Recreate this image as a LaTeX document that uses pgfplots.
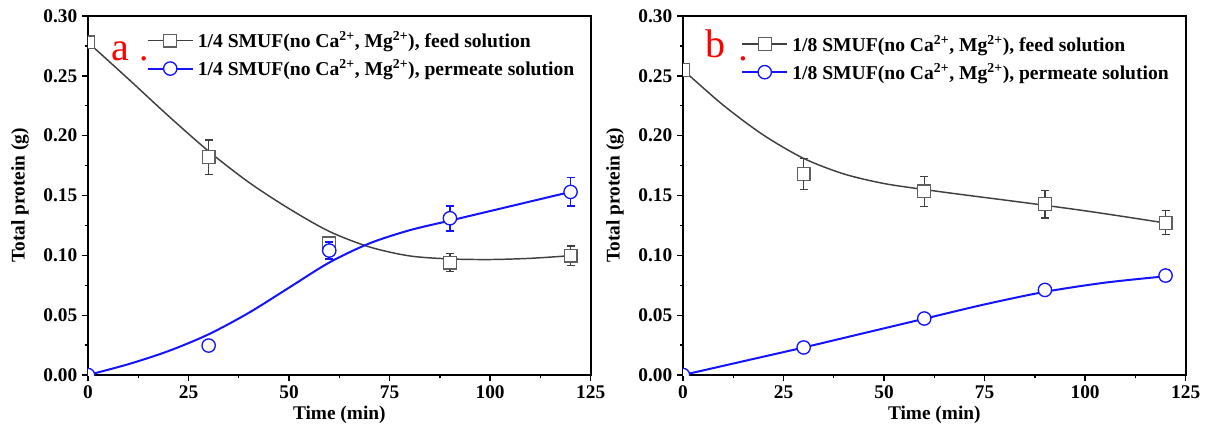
\documentclass[border=0pt]{standalone}
\usepackage{fontspec}
\setmainfont{Liberation Serif}
\usepackage{pgfplots}
\pgfplotsset{compat=1.18}
\definecolor{lgray}{RGB}{64,64,64}
\definecolor{mgray}{RGB}{95,95,95}
\definecolor{mblue}{RGB}{20,20,255}
\pgfplotsset{
  myax/.style={
    scale only axis, width=377pt, height=269.25pt,
    xmin=0, xmax=125, ymin=0, ymax=0.30,
    xtick={0,25,50,75,100,125},
    ytick={0,0.05,0.10,0.15,0.20,0.25,0.30},
    minor x tick num=1, minor y tick num=1,
    tick pos=left, tick align=outside,
    major tick length=4.5pt, minor tick length=2.5pt,
    axis line style={line width=1.4pt},
    every tick/.style={black, line width=1pt},
    /pgf/number format/assume math mode=true,
    ticklabel style={font=\bfseries\fontsize{14.5}{17}\selectfont},
    yticklabel style={/pgf/number format/.cd, fixed, fixed zerofill, precision=2},
    every axis x label/.style={at={(rel axis cs:0.5,0)}, yshift=-30pt, anchor=center},
    every axis y label/.style={at={(rel axis cs:0,0.5)}, xshift=-51pt, rotate=90, anchor=center},
    label style={font=\bfseries\fontsize{14.5}{17}\selectfont},
    xlabel={Time (min)}, ylabel={Total protein (g)},
    clip marker paths=true,
    legend style={draw=none, fill=none, anchor=north west, inner sep=0pt,
      font=\bfseries\fontsize{14.7}{16.5}\selectfont, row sep=3.5pt,
      cells={anchor=west},
      /tikz/every odd column/.append style={column sep=1pt}},
    legend image code/.code={\draw[mark repeat=2,mark phase=2] plot coordinates {(0pt,0pt)(17pt,0pt)(34pt,0pt)};},
  },
  feedpts/.style={only marks, mark=square*, mark size=4.8pt,
    mark options={draw=mgray, fill=white, line width=0.9pt, solid},
    error bars/y dir=both, error bars/y explicit,
    error bars/error bar style={lgray, line width=1pt},
    error bars/error mark options={rotate=90, mark size=3pt, lgray, line width=1pt}},
  permpts/.style={only marks, mark=*, mark size=5pt,
    mark options={draw=mblue, fill=white, line width=1pt, solid},
    error bars/y dir=both, error bars/y explicit,
    error bars/error bar style={mblue, line width=1.3pt},
    error bars/error mark options={rotate=90, mark size=3pt, mblue, line width=1.3pt}},
  feedline/.style={lgray, line width=1.1pt, smooth, no marks},
  permline/.style={mblue, line width=1.5pt, smooth, no marks},
}
\begin{document}
\begin{tikzpicture}
\useasboundingbox (-66pt,-45.75pt) rectangle (842.25pt,281.25pt);
% ---------- panel a ----------
\begin{axis}[myax, legend style={at={(rel axis cs:0.116,0.965)}}]
\addlegendimage{lgray, line width=1.1pt, mark=square*, mark size=4.8pt, mark options={draw=mgray, fill=white, line width=0.9pt}}
\addlegendentry{1/4 SMUF(no Ca\textsuperscript{2+}, Mg\textsuperscript{2+}), feed solution}
\addlegendimage{mblue, line width=1.5pt, mark=*, mark size=5pt, mark options={draw=mblue, fill=white, line width=1pt}}
\addlegendentry{1/4 SMUF(no Ca\textsuperscript{2+}, Mg\textsuperscript{2+}), permeate solution}
\addplot[feedline, forget plot] coordinates {
 (0,0.278) (10,0.2475) (20,0.2165) (30,0.187) (40,0.161) (50,0.139) (60,0.120)
 (70,0.107) (80,0.0995) (90,0.097) (100,0.0965) (110,0.0975) (120,0.0997)};
\addplot[permline, forget plot] coordinates {
 (0,0) (10,0.009) (20,0.020) (30,0.034) (40,0.052) (50,0.073) (60,0.094)
 (70,0.110) (80,0.121) (90,0.129) (100,0.137) (110,0.145) (120,0.153)};
\addplot[feedpts, forget plot] table[x=x, y=y, y error=e] {
x y e
0 0.278 0
30 0.182 0.0145
60 0.110 0.006
90 0.094 0.0075
120 0.0997 0.008
};
\addplot[permpts, forget plot] table[x=x, y=y, y error=e] {
x y e
0 0 0
30 0.0246 0.003
60 0.104 0.007
90 0.131 0.0105
120 0.153 0.012
};
\node[red, font=\fontsize{30}{32}\selectfont, anchor=base] at (axis cs:8.0,0.2624) {a};
\node[red, font=\fontsize{28}{30}\selectfont, anchor=base] at (axis cs:13.9,0.2625) {.};
\end{axis}
% ---------- panel b ----------
\begin{axis}[myax, at={(446.25pt,0pt)}, legend style={at={(rel axis cs:0.115,0.955)}}]
\addlegendimage{lgray, line width=1.1pt, mark=square*, mark size=4.8pt, mark options={draw=mgray, fill=white, line width=0.9pt}}
\addlegendentry{1/8 SMUF(no Ca\textsuperscript{2+}, Mg\textsuperscript{2+}), feed solution}
\addlegendimage{mblue, line width=1.5pt, mark=*, mark size=5pt, mark options={draw=mblue, fill=white, line width=1pt}}
\addlegendentry{1/8 SMUF(no Ca\textsuperscript{2+}, Mg\textsuperscript{2+}), permeate solution}
\addplot[feedline, forget plot] coordinates {
 (0,0.255) (10,0.2255) (20,0.2005) (30,0.181) (40,0.168) (50,0.160) (60,0.155)
 (70,0.1505) (80,0.1462) (90,0.1418) (100,0.1372) (110,0.1322) (120,0.127)};
\addplot[permline, forget plot] coordinates {
 (0,0) (15,0.0115) (30,0.023) (45,0.035) (60,0.047) (75,0.0590)
 (90,0.0695) (105,0.0772) (120,0.0825)};
\addplot[feedpts, forget plot] table[x=x, y=y, y error=e] {
x y e
0 0.255 0
30 0.168 0.013
60 0.1534 0.0125
90 0.1427 0.0115
120 0.1272 0.010
};
\addplot[permpts, forget plot] table[x=x, y=y, y error=e] {
x y e
0 0 0
30 0.023 0.003
60 0.0472 0.003
90 0.0711 0.004
120 0.0831 0.005
};
\node[red, font=\fontsize{30}{32}\selectfont, anchor=base] at (axis cs:8.0,0.265) {b};
\node[red, font=\fontsize{28}{30}\selectfont, anchor=base] at (axis cs:14.9,0.2625) {.};
\end{axis}
\end{tikzpicture}
\end{document}
